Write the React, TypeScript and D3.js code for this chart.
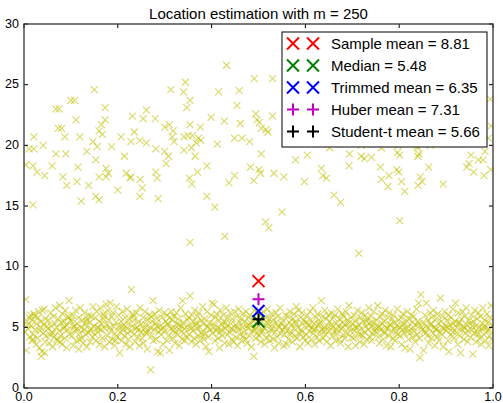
import { scaleLinear } from 'd3'

const width = 503
const height = 403

const margin = {
  top: 24,
  right: 10,
  bottom: 15,
  left: 24
}

const title = 'Location estimation with m = 250'

const xTicks = [0, 0.2, 0.4, 0.6, 0.8, 1.0]
const yTicks = [0, 5, 10, 15, 20, 25, 30]

// bulk of the sample, around 5
const inliers: [number, number][] = [
  [0.002,4.6],[0.004,7.3],[0.005,3.1],[0.007,5.5],[0.009,4.9],[0.011,5.8],[0.012,4.2],[0.014,6.0],[0.015,5.1],[0.017,3.9],[0.018,5.6],[0.020,4.4],[0.021,6.1],[0.023,5.9],[0.024,4.8],[0.026,3.6],[0.027,5.3],[0.029,4.1],[0.030,5.8],[0.031,6.3],[0.033,3.3],[0.034,4.7],[0.035,5.0],[0.037,2.6],[0.038,3.0],[0.039,6.4],[0.041,4.5],[0.042,5.2],[0.043,6.5],[0.045,3.8],[0.046,5.7],[0.047,4.3],[0.049,5.1],[0.008,5.2],[0.019,4.0],[0.036,5.5],[0.044,2.9],
  [0.051,4.9],[0.052,5.6],[0.054,3.7],[0.055,4.4],[0.057,6.2],[0.058,5.1],[0.060,4.6],[0.061,3.4],[0.063,5.9],[0.064,4.2],[0.066,5.3],[0.067,6.6],[0.069,4.0],[0.070,5.0],[0.072,3.9],[0.073,5.7],[0.075,4.7],[0.076,6.8],[0.078,4.3],[0.079,5.4],[0.081,3.6],[0.082,6.1],[0.084,4.9],[0.085,5.5],[0.087,4.1],[0.088,6.4],[0.090,5.2],[0.091,3.3],[0.093,4.8],[0.094,5.9],[0.096,7.2],[0.097,4.4],[0.099,5.6],[0.062,4.5],[0.077,3.8],[0.086,5.0],[0.095,5.8],
  [0.101,5.5],[0.102,4.3],[0.104,6.0],[0.105,3.5],[0.107,5.1],[0.108,4.7],[0.110,6.4],[0.111,3.9],[0.113,5.3],[0.114,4.9],[0.116,5.8],[0.117,3.2],[0.119,4.5],[0.120,6.6],[0.122,5.0],[0.123,4.1],[0.125,5.6],[0.126,3.7],[0.128,4.8],[0.129,6.2],[0.131,5.2],[0.132,4.4],[0.134,3.4],[0.135,5.7],[0.137,4.6],[0.138,6.0],[0.140,5.4],[0.141,3.8],[0.143,4.9],[0.144,5.9],[0.146,4.2],[0.147,6.7],[0.149,5.1],[0.106,5.0],[0.118,4.0],[0.133,5.5],[0.142,4.7],
  [0.151,4.4],[0.152,5.8],[0.154,3.9],[0.155,6.3],[0.157,5.0],[0.158,4.6],[0.160,5.5],[0.161,3.6],[0.163,6.6],[0.164,4.8],[0.166,5.3],[0.167,4.1],[0.169,6.1],[0.170,5.7],[0.172,3.4],[0.173,4.9],[0.175,6.9],[0.176,5.2],[0.178,4.3],[0.179,6.4],[0.181,5.6],[0.182,3.8],[0.184,7.0],[0.185,4.7],[0.187,5.9],[0.188,4.0],[0.190,6.2],[0.191,5.1],[0.193,3.5],[0.194,4.5],[0.196,5.4],[0.197,6.7],[0.199,4.2],[0.159,4.9],[0.171,5.9],[0.183,5.0],[0.195,3.9],
  [0.201,5.0],[0.202,6.0],[0.204,2.9],[0.205,4.6],[0.207,5.5],[0.208,3.9],[0.210,6.3],[0.211,4.8],[0.213,5.2],[0.214,4.3],[0.216,5.8],[0.217,3.6],[0.219,4.9],[0.220,6.5],[0.222,5.3],[0.223,4.0],[0.225,5.7],[0.226,3.4],[0.228,4.7],[0.229,8.1],[0.231,5.1],[0.232,6.1],[0.234,4.4],[0.235,5.6],[0.237,3.8],[0.238,4.9],[0.240,6.2],[0.241,5.0],[0.243,4.2],[0.244,5.4],[0.246,3.5],[0.247,6.6],[0.249,4.6],[0.209,5.1],[0.221,4.5],[0.233,5.9],[0.245,4.8],
  [0.251,5.3],[0.252,4.1],[0.254,5.8],[0.255,3.7],[0.257,4.9],[0.258,6.3],[0.260,5.2],[0.261,4.5],[0.263,3.2],[0.264,5.6],[0.266,4.7],[0.267,6.0],[0.269,5.0],[0.270,1.5],[0.272,4.3],[0.273,5.5],[0.275,7.2],[0.276,3.9],[0.278,4.8],[0.279,6.1],[0.281,5.3],[0.282,4.0],[0.284,5.7],[0.285,3.0],[0.287,4.6],[0.288,6.4],[0.290,5.1],[0.291,2.9],[0.293,4.4],[0.294,5.8],[0.296,3.6],[0.297,5.0],[0.299,6.2],[0.259,4.6],[0.271,5.9],[0.283,5.1],[0.292,4.8],
  [0.301,4.7],[0.302,5.5],[0.304,3.9],[0.305,6.0],[0.307,5.2],[0.308,4.3],[0.310,3.1],[0.311,5.8],[0.313,4.9],[0.314,6.3],[0.316,5.6],[0.317,4.1],[0.319,5.0],[0.320,5.9],[0.322,3.7],[0.323,4.6],[0.325,6.2],[0.326,5.3],[0.328,4.4],[0.329,5.7],[0.331,3.5],[0.332,4.8],[0.334,6.6],[0.335,5.1],[0.337,4.0],[0.338,7.2],[0.340,5.4],[0.341,4.5],[0.343,3.9],[0.344,6.1],[0.346,5.0],[0.347,4.2],[0.349,5.6],[0.306,5.3],[0.318,4.7],[0.330,5.2],[0.342,4.9],
  [0.351,5.8],[0.352,4.4],[0.354,7.6],[0.355,5.1],[0.357,3.8],[0.358,6.0],[0.360,4.7],[0.361,5.5],[0.363,4.1],[0.364,6.4],[0.366,5.2],[0.367,3.6],[0.369,4.9],[0.370,5.9],[0.372,4.3],[0.373,6.2],[0.375,5.0],[0.376,3.9],[0.378,5.6],[0.379,4.6],[0.381,6.7],[0.382,5.3],[0.384,4.0],[0.385,5.7],[0.387,4.5],[0.388,3.4],[0.390,6.3],[0.391,5.1],[0.393,4.2],[0.394,3.0],[0.396,5.4],[0.397,4.8],[0.399,6.0],[0.356,4.9],[0.368,5.4],[0.380,4.4],[0.392,5.0],
  [0.401,7.0],[0.402,4.5],[0.404,5.3],[0.405,6.9],[0.407,3.9],[0.408,5.8],[0.410,4.7],[0.411,6.1],[0.413,5.0],[0.414,4.1],[0.416,5.6],[0.417,3.3],[0.419,6.4],[0.420,4.8],[0.422,5.2],[0.423,4.3],[0.425,6.0],[0.426,5.5],[0.428,3.7],[0.429,4.9],[0.431,6.6],[0.432,5.1],[0.434,4.4],[0.435,5.8],[0.437,3.6],[0.438,4.6],[0.440,6.2],[0.441,5.3],[0.443,4.0],[0.444,5.7],[0.446,4.8],[0.447,3.8],[0.449,6.3],[0.406,5.0],[0.418,4.6],[0.430,5.4],[0.442,4.9],
  [0.451,5.2],[0.452,4.2],[0.454,5.9],[0.455,3.5],[0.457,4.8],[0.458,6.5],[0.460,5.4],[0.461,4.4],[0.463,5.7],[0.464,3.9],[0.466,5.0],[0.467,6.1],[0.469,4.6],[0.470,5.5],[0.472,4.0],[0.473,6.3],[0.475,5.1],[0.476,3.7],[0.478,4.9],[0.479,5.8],[0.481,4.3],[0.482,6.0],[0.484,5.3],[0.485,3.4],[0.487,4.7],[0.488,5.6],[0.490,2.6],[0.491,6.4],[0.493,5.0],[0.494,4.1],[0.496,5.7],[0.497,4.5],[0.499,6.2],[0.456,5.0],[0.468,4.3],[0.480,5.2],[0.492,4.8],
  [0.501,5.1],[0.502,4.3],[0.504,6.0],[0.505,3.8],[0.507,5.5],[0.508,4.7],[0.510,6.3],[0.511,5.0],[0.513,3.6],[0.514,4.9],[0.516,5.8],[0.517,4.1],[0.519,6.5],[0.520,5.3],[0.522,4.4],[0.523,5.7],[0.525,3.9],[0.526,4.8],[0.528,6.1],[0.529,5.2],[0.531,4.0],[0.532,5.6],[0.534,3.3],[0.535,4.6],[0.537,6.2],[0.538,5.4],[0.540,4.2],[0.541,5.9],[0.543,3.7],[0.544,5.0],[0.546,6.6],[0.547,4.5],[0.549,5.3],[0.506,4.6],[0.518,5.4],[0.530,4.9],[0.542,5.1],
  [0.551,4.8],[0.552,5.6],[0.554,3.5],[0.555,4.4],[0.557,6.0],[0.558,5.1],[0.560,3.6],[0.561,4.7],[0.563,5.9],[0.564,4.0],[0.566,5.4],[0.567,6.3],[0.569,4.6],[0.570,5.2],[0.572,3.8],[0.573,5.7],[0.575,4.9],[0.576,6.1],[0.578,4.3],[0.579,5.5],[0.581,6.7],[0.582,4.1],[0.584,5.0],[0.585,6.4],[0.587,4.5],[0.588,3.4],[0.590,5.8],[0.591,4.8],[0.593,6.2],[0.594,5.3],[0.596,4.2],[0.597,5.6],[0.599,3.9],[0.556,5.0],[0.568,4.4],[0.580,5.3],[0.592,4.6],
  [0.601,5.4],[0.602,4.4],[0.604,6.0],[0.605,3.7],[0.607,5.1],[0.608,4.7],[0.610,6.3],[0.611,5.6],[0.613,4.0],[0.614,5.0],[0.616,6.6],[0.617,4.5],[0.619,5.3],[0.620,3.6],[0.622,4.9],[0.623,5.8],[0.625,4.2],[0.626,6.1],[0.628,5.2],[0.629,3.9],[0.631,4.6],[0.632,5.5],[0.634,7.2],[0.635,4.8],[0.637,5.9],[0.638,4.1],[0.640,5.0],[0.641,6.4],[0.643,4.4],[0.644,5.7],[0.646,3.8],[0.647,5.1],[0.649,6.0],[0.606,5.2],[0.618,4.8],[0.630,5.3],[0.642,4.7],
  [0.651,4.7],[0.652,5.5],[0.654,3.5],[0.655,6.2],[0.657,5.0],[0.658,4.3],[0.660,5.8],[0.661,4.6],[0.663,6.0],[0.664,3.9],[0.666,5.3],[0.667,4.8],[0.669,6.5],[0.670,5.1],[0.672,4.0],[0.673,5.7],[0.675,3.7],[0.676,4.9],[0.678,6.1],[0.679,5.4],[0.681,4.4],[0.682,5.9],[0.684,4.1],[0.685,5.2],[0.687,6.3],[0.688,4.5],[0.690,5.6],[0.691,3.4],[0.693,6.8],[0.694,5.0],[0.696,4.7],[0.697,5.8],[0.699,4.2],[0.656,5.2],[0.668,4.5],[0.680,5.0],[0.692,5.3],
  [0.701,5.3],[0.702,4.1],[0.704,6.0],[0.705,4.7],[0.707,3.5],[0.708,5.6],[0.710,5.0],[0.711,6.4],[0.713,4.4],[0.714,5.2],[0.716,3.8],[0.717,5.8],[0.719,4.9],[0.720,6.2],[0.722,4.3],[0.723,5.5],[0.725,3.6],[0.726,4.6],[0.728,6.0],[0.729,5.1],[0.731,4.0],[0.732,5.7],[0.734,4.8],[0.735,6.6],[0.737,5.3],[0.738,4.2],[0.740,5.9],[0.741,3.9],[0.743,4.5],[0.744,5.4],[0.746,6.3],[0.747,4.7],[0.749,5.0],[0.706,5.0],[0.718,4.4],[0.730,5.5],[0.742,5.1],
  [0.751,4.6],[0.752,5.6],[0.754,6.8],[0.755,4.2],[0.757,5.1],[0.758,3.7],[0.760,5.9],[0.761,4.8],[0.763,6.1],[0.764,5.3],[0.766,4.0],[0.767,5.5],[0.769,4.5],[0.770,6.4],[0.772,5.0],[0.773,3.5],[0.775,4.9],[0.776,5.8],[0.778,4.3],[0.779,6.2],[0.781,5.2],[0.782,3.4],[0.784,4.7],[0.785,5.7],[0.787,4.1],[0.788,6.0],[0.790,5.4],[0.791,3.9],[0.793,4.6],[0.794,5.1],[0.796,6.5],[0.797,4.4],[0.799,5.6],[0.756,5.0],[0.768,4.6],[0.780,5.2],[0.792,4.9],
  [0.801,5.0],[0.802,4.3],[0.804,5.8],[0.805,3.6],[0.807,4.8],[0.808,6.1],[0.810,5.3],[0.811,4.5],[0.813,3.3],[0.814,5.6],[0.816,4.9],[0.817,6.3],[0.819,5.1],[0.820,4.0],[0.822,5.7],[0.823,3.2],[0.825,4.6],[0.826,6.0],[0.828,5.4],[0.829,4.2],[0.831,5.9],[0.832,4.7],[0.834,3.8],[0.835,5.2],[0.837,6.5],[0.838,4.4],[0.840,5.5],[0.841,7.0],[0.843,4.1],[0.844,2.5],[0.846,7.7],[0.847,5.0],[0.849,4.8],[0.806,5.1],[0.818,4.6],[0.830,5.0],[0.842,5.3],
  [0.851,5.4],[0.852,3.1],[0.854,4.7],[0.855,6.0],[0.857,5.1],[0.858,7.0],[0.860,4.3],[0.861,5.6],[0.863,3.7],[0.864,4.9],[0.866,6.2],[0.867,5.2],[0.869,4.1],[0.870,5.8],[0.872,4.5],[0.873,6.4],[0.875,5.0],[0.876,3.5],[0.878,4.8],[0.879,5.7],[0.881,4.2],[0.882,6.1],[0.884,5.3],[0.885,3.9],[0.887,4.6],[0.888,7.4],[0.890,5.5],[0.891,4.4],[0.893,5.9],[0.894,3.4],[0.896,4.9],[0.897,6.3],[0.899,5.1],[0.856,4.5],[0.868,5.3],[0.880,4.9],[0.892,5.0],
  [0.901,4.7],[0.902,5.6],[0.904,3.9],[0.905,6.0],[0.906,3.0],[0.908,5.2],[0.910,4.4],[0.911,5.8],[0.913,4.9],[0.914,6.5],[0.916,5.3],[0.917,4.1],[0.919,5.5],[0.920,7.0],[0.922,4.6],[0.923,5.0],[0.925,3.6],[0.926,6.2],[0.928,5.4],[0.929,4.3],[0.931,2.9],[0.932,5.7],[0.934,4.8],[0.935,6.3],[0.937,5.1],[0.938,4.0],[0.940,5.9],[0.941,4.5],[0.943,6.6],[0.944,5.2],[0.946,3.8],[0.947,4.7],[0.949,5.6],[0.903,5.0],[0.915,4.6],[0.927,5.3],[0.939,4.9],
  [0.951,5.3],[0.952,4.2],[0.954,6.0],[0.955,4.8],[0.957,2.8],[0.958,5.5],[0.960,4.5],[0.961,6.4],[0.963,5.1],[0.964,3.8],[0.966,5.7],[0.967,4.6],[0.969,6.2],[0.970,5.0],[0.972,4.1],[0.973,5.9],[0.975,3.6],[0.976,4.9],[0.978,6.6],[0.979,5.3],[0.981,4.4],[0.982,5.6],[0.984,3.9],[0.985,5.0],[0.987,6.1],[0.988,4.7],[0.990,5.4],[0.991,3.5],[0.993,4.3],[0.994,5.8],[0.996,6.8],[0.997,4.0],[0.999,5.2],[0.956,5.1],[0.968,4.4],[0.980,5.0],[0.992,4.8]
]

// the m = 250 contaminating points, around 20
const outliers: [number, number][] = [
  [0.150,24.6],[0.313,24.6],[0.100,23.7],[0.108,23.7],[0.068,23.0],[0.075,23.0],[0.173,23.1],[0.261,22.9],[0.111,22.1],[0.231,22.4],[0.254,22.2],[0.280,22.2],[0.173,22.1],[0.165,21.7],[0.160,21.2],[0.167,20.9],[0.073,21.4],[0.080,21.4],[0.021,20.7],[0.087,20.7],[0.119,20.7],[0.147,20.3],[0.156,19.9],[0.207,20.7],[0.228,20.3],[0.235,21.1],[0.247,20.4],[0.261,20.2],[0.300,21.5],[0.310,21.7],[0.318,21.2],[0.316,20.7],[0.320,20.3],[0.011,19.7],[0.021,19.7],[0.041,20.0],[0.187,19.9],[0.281,19.7],[0.068,19.3],[0.089,19.3],[0.134,19.5],[0.214,19.1],[0.300,19.5],[0.308,19.1],[0.303,18.5],[0.004,18.4],[0.019,18.3],[0.060,18.3],[0.153,18.8],[0.115,18.2],[0.175,18.1],[0.180,17.7],[0.175,17.4],[0.160,17.4],[0.218,17.7],[0.228,17.4],[0.226,17.3],[0.028,17.8],[0.044,17.5],[0.083,17.4],[0.091,16.7],[0.113,17.0],[0.138,16.7],[0.248,17.2],[0.252,16.5],[0.247,15.8],[0.281,17.8],[0.284,17.3],[0.200,16.3],[0.153,15.8],[0.160,15.5],[0.122,15.4],[0.286,15.6],[0.019,15.1],
  [0.432,26.6],[0.344,25.2],[0.340,24.4],[0.354,23.7],[0.347,23.1],[0.415,24.4],[0.459,24.5],[0.491,25.5],[0.530,25.5],[0.454,23.3],[0.399,22.3],[0.427,22.0],[0.461,21.8],[0.494,22.6],[0.497,22.1],[0.502,21.9],[0.506,21.4],[0.516,21.3],[0.520,21.1],[0.530,22.4],[0.354,21.7],[0.376,21.5],[0.341,20.7],[0.350,20.8],[0.359,20.8],[0.372,20.6],[0.377,20.4],[0.367,20.2],[0.357,19.8],[0.341,19.6],[0.449,20.6],[0.465,20.6],[0.481,20.3],[0.412,20.1],[0.365,19.1],[0.390,18.3],[0.506,19.3],[0.483,18.2],[0.501,18.0],[0.504,17.7],[0.490,17.1],[0.533,17.7],[0.554,17.4],[0.598,17.0],[0.579,18.8],[0.604,19.2],[0.634,18.1],[0.637,17.5],[0.645,17.3],[0.370,17.8],[0.353,17.3],[0.358,16.8],[0.449,17.5],[0.437,16.9],[0.390,15.8],[0.407,14.9],[0.550,14.5],[0.515,13.7],[0.522,13.2],[0.428,12.5],[0.354,12.0],
  [0.652,19.8],[0.694,19.3],[0.719,19.1],[0.726,18.9],[0.741,19.0],[0.693,18.3],[0.661,15.9],[0.675,15.3],[0.762,19.8],[0.760,18.2],[0.762,17.2],[0.778,17.5],[0.776,16.6],[0.796,19.4],[0.801,19.2],[0.795,18.0],[0.799,17.8],[0.805,17.0],[0.812,16.2],[0.839,19.8],[0.840,19.1],[0.842,19.3],[0.863,18.2],[0.845,17.4],[0.849,17.0],[0.840,16.7],[0.894,16.8],[0.801,13.8],[0.714,11.1],[0.953,19.2],[0.949,18.5],[0.944,18.2],[0.959,17.8],[0.981,17.5],[0.969,18.8],[0.979,18.8],[0.983,19.5],[0.995,18.0],[0.797,20.0],[0.838,20.0],[0.866,20.0],[0.719,20.0],[0.994,23.8],[0.996,21.6],[0.990,20.6],
  [0.561,21.3],[0.568,23.9],[0.577,20.8],[0.585,22.6],[0.593,25.1],[0.602,21.7],[0.611,20.5],[0.618,23.2],[0.627,22.0],[0.636,24.4],[0.644,20.9],[0.651,21.8],[0.659,23.5],[0.667,20.6],[0.674,22.9],[0.682,26.1],[0.689,21.4],[0.697,20.7],[0.705,23.8],[0.712,22.2],[0.720,21.0],[0.728,24.9],[0.735,20.4],[0.743,22.7],[0.750,21.6],[0.758,23.4],[0.766,20.9],[0.773,22.1],[0.781,25.6],[0.788,21.2],[0.796,20.6],[0.804,23.0],[0.811,21.9],[0.819,24.2],[0.827,20.8],[0.834,22.5],[0.842,21.3],[0.849,23.7],[0.857,20.5],[0.865,22.0],[0.872,21.1],[0.880,24.6],[0.887,20.9],[0.895,22.8],[0.903,21.5],[0.910,23.3],[0.918,20.4],[0.926,21.9],[0.933,25.3],[0.941,22.4],[0.948,20.7],[0.956,21.6],[0.964,23.1],[0.971,20.6],[0.979,22.3]
]

// location estimates, all plotted at x = 0.5
const estimatorNames = ['Sample mean', 'Median', 'Trimmed mean', 'Huber mean', 'Student-t mean']
const estimatorValues = [8.81, 5.48, 6.35, 7.31, 5.66]
const estimatorColors = ['#ff0000', '#008000', '#0000ff', '#bf00bf', '#000000']
const estimatorMarkers = ['x', 'x', 'x', '+', '+']
const estimateX = 0.5

const font = '"Liberation Sans", Arial, Helvetica, sans-serif'

const markerPath = (type: string, cx: number, cy: number, s: number) =>
  type === 'x'
    ? `M${cx - s},${cy - s}L${cx + s},${cy + s}M${cx - s},${cy + s}L${cx + s},${cy - s}`
    : `M${cx - s},${cy}L${cx + s},${cy}M${cx},${cy - s}L${cx},${cy + s}`

function App() {
  const innerLeft = margin.left
  const innerRight = width - margin.right
  const innerTop = margin.top
  const innerBottom = height - margin.bottom

  const xScale = scaleLinear().domain([0, 1]).range([innerLeft, innerRight])
  const yScale = scaleLinear().domain([0, 30]).range([innerBottom, innerTop])

  const points = inliers.concat(outliers)
  const tickLen = 4

  const legend = { x: 282, y: 32, w: 205, h: 115, row: 22 }

  return (
    <svg
      width={width}
      height={height}
      style={{ position: 'absolute', left: 0, top: 0, background: '#fff' }}
      fontFamily={font}
    >
      <defs>
        <clipPath id="plot-area">
          <rect x={innerLeft} y={innerTop} width={innerRight - innerLeft} height={innerBottom - innerTop} />
        </clipPath>
      </defs>

      <text x={(innerLeft + innerRight) / 2} y={18.5} textAnchor="middle" fontSize={15}>
        {title}
      </text>

      <g clipPath="url(#plot-area)">
        {points.map((d, i) => (
          <path
            key={i}
            d={markerPath('x', xScale(d[0]), yScale(d[1]), 3.5)}
            stroke="#bfbf00"
            strokeOpacity={0.6}
            strokeWidth={1.1}
            fill="none"
          />
        ))}
        {estimatorValues.map((v, i) => (
          <path
            key={estimatorNames[i]}
            d={markerPath(estimatorMarkers[i], xScale(estimateX), yScale(v), 6)}
            stroke={estimatorColors[i]}
            strokeWidth={2}
            fill="none"
          />
        ))}
      </g>

      {/* ticks, inward on all four sides */}
      {xTicks.map(t => (
        <g key={'x' + t}>
          <line x1={xScale(t)} x2={xScale(t)} y1={innerBottom} y2={innerBottom - tickLen} stroke="#000" />
          <line x1={xScale(t)} x2={xScale(t)} y1={innerTop} y2={innerTop + tickLen} stroke="#000" />
          <text x={xScale(t)} y={innerBottom + 12.5} textAnchor="middle" fontSize={12.5}>
            {t.toFixed(1)}
          </text>
        </g>
      ))}
      {yTicks.map(t => (
        <g key={'y' + t}>
          <line x1={innerLeft} x2={innerLeft + tickLen} y1={yScale(t)} y2={yScale(t)} stroke="#000" />
          <line x1={innerRight} x2={innerRight - tickLen} y1={yScale(t)} y2={yScale(t)} stroke="#000" />
          <text x={innerLeft - 5} y={yScale(t) + 3.5} textAnchor="end" fontSize={12.5}>
            {t}
          </text>
        </g>
      ))}

      <rect
        x={innerLeft}
        y={innerTop}
        width={innerRight - innerLeft}
        height={innerBottom - innerTop}
        fill="none"
        stroke="#333"
        strokeWidth={1.3}
      />

      <g>
        <rect x={legend.x} y={legend.y} width={legend.w} height={legend.h} fill="#fff" stroke="#000" strokeWidth={1} />
        {estimatorNames.map((name, i) => {
          const cy = legend.y + 11.5 + i * legend.row
          return (
            <g key={name}>
              {[293, 313].map(mx => (
                <path
                  key={mx}
                  d={markerPath(estimatorMarkers[i], mx, cy, 6)}
                  stroke={estimatorColors[i]}
                  strokeWidth={2}
                  fill="none"
                />
              ))}
              <text x={331} y={cy + 5.5} fontSize={15}>
                {`${name} = ${estimatorValues[i].toFixed(2)}`}
              </text>
            </g>
          )
        })}
      </g>
    </svg>
  )
}

export default App
